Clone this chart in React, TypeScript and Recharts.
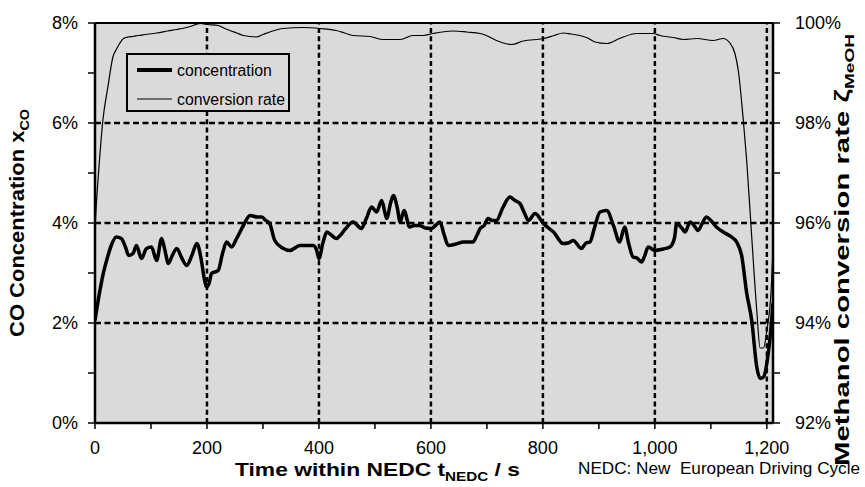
import React from "react";
import {
  ComposedChart,
  Line,
  XAxis,
  YAxis,
  CartesianGrid,
  ReferenceLine,
  Legend,
} from "recharts";

const FONT = '"Liberation Sans", Arial, Helvetica, sans-serif';

// CO concentration (%) over time (s)
const concTime = [
  0, 8, 15, 22, 29, 38, 47, 55, 60, 68, 74, 83, 92, 101, 110, 119, 125, 131,
  138, 146, 155, 164, 173, 182, 190, 195, 199, 204, 208, 220, 228, 235, 244,
  253, 265, 277, 290, 298, 305, 312, 321, 335, 348, 366, 380, 390, 396, 400,
  407, 414, 423, 431, 438, 447, 461, 476, 485, 494, 503, 512, 518, 521, 528,
  533, 540, 545, 552, 562, 570, 580, 590, 601, 608, 616, 624, 631, 645, 658,
  675, 682, 688, 695, 702, 710, 717, 729, 741, 750, 759, 767, 774, 786, 801,
  810, 819, 836, 845, 854, 869, 877, 884, 892, 902, 914, 926, 937, 946, 953,
  961, 968, 976, 982, 988, 1000, 1015, 1027, 1035, 1039, 1048, 1054, 1063,
  1070, 1077, 1085, 1092, 1100, 1110, 1118, 1125, 1137, 1146, 1155, 1164, 1173,
  1182, 1188, 1194, 1202, 1207, 1211,
];
const concValue = [
  2.05, 2.6, 3.0, 3.3, 3.55, 3.72, 3.69, 3.5, 3.35, 3.39, 3.55, 3.29, 3.49,
  3.52, 3.25, 3.69, 3.45, 3.19, 3.35, 3.49, 3.3, 3.15, 3.35, 3.59, 3.25, 2.9,
  2.72, 2.8, 2.99, 3.05, 3.4, 3.62, 3.52, 3.69, 3.95, 4.15, 4.12, 4.12, 4.05,
  3.99, 3.65, 3.5, 3.45, 3.55, 3.55, 3.55, 3.45, 3.29, 3.6, 3.82, 3.75, 3.69,
  3.75, 3.88, 4.02, 3.89, 4.1, 4.32, 4.22, 4.45, 4.2, 4.09, 4.4, 4.55, 4.3,
  4.02, 4.25, 3.92, 3.95, 3.95, 3.9, 3.89, 3.95, 4.02, 3.75, 3.55, 3.58, 3.62,
  3.62, 3.75, 3.89, 3.95, 4.09, 4.05, 4.05, 4.32, 4.52, 4.45, 4.39, 4.2, 4.05,
  4.19, 3.99, 3.9, 3.82, 3.59, 3.6, 3.65, 3.49, 3.6, 3.62, 3.9, 4.22, 4.25,
  3.95, 3.62, 3.92, 3.6, 3.32, 3.3, 3.22, 3.35, 3.52, 3.45, 3.48, 3.52, 3.7,
  3.99, 3.9, 3.82, 4.02, 3.95, 3.85, 4.0, 4.12, 4.05, 3.92, 3.85, 3.8, 3.72,
  3.62, 3.35, 2.6, 2.05, 1.12, 0.89, 0.92, 1.35, 1.85, 2.4,
];

// methanol conversion rate (%) over time (s)
const convTime = [
  0, 2, 8, 14, 23, 32, 39, 44, 51, 59, 68, 77, 90, 110, 130, 146, 160, 170,
  188, 202, 220, 230, 241, 253, 265, 288, 300, 312, 336, 372, 402, 431, 446,
  461, 491, 515, 545, 568, 586, 604, 620, 640, 664, 688, 699, 717, 744, 765,
  801, 820, 836, 850, 866, 880, 893, 914, 937, 967, 997, 1009, 1033, 1051,
  1075, 1104, 1122, 1134, 1143, 1149, 1158, 1164, 1173, 1182, 1188, 1194, 1200,
  1208, 1211,
];
const convValue = [
  95.9, 96.3, 97.25, 98.05, 98.72, 99.32, 99.49, 99.59, 99.69, 99.72, 99.73,
  99.75, 99.77, 99.8, 99.84, 99.87, 99.9, 99.93, 99.99, 99.97, 99.95, 99.9,
  99.85, 99.8, 99.75, 99.72, 99.77, 99.82, 99.89, 99.91, 99.89, 99.85, 99.8,
  99.75, 99.73, 99.67, 99.67, 99.75, 99.75, 99.79, 99.82, 99.84, 99.82, 99.79,
  99.75, 99.65, 99.57, 99.64, 99.69, 99.75, 99.8, 99.78, 99.75, 99.7, 99.62,
  99.59, 99.69, 99.79, 99.79, 99.75, 99.71, 99.67, 99.69, 99.65, 99.69, 99.6,
  99.39, 99.05, 98.05, 97.25, 95.72, 94.25, 93.5, 93.5, 93.85, 94.72, 95.5,
];

const seriesNames = ["concentration", "conversion rate"];
const xTicks = [0, 100, 200, 300, 400, 500, 600, 700, 800, 900, 1000, 1100, 1200];
const leftTicks = [0, 1, 2, 3, 4, 5, 6, 7, 8];
const rightTicks = [92, 93, 94, 95, 96, 97, 98, 99, 100];
const gridX = [200, 400, 600, 800, 1000, 1200];
const gridY = [2, 4, 6];

const concData = concTime.map((t, i) => ({ t, v: concValue[i] }));
const convData = convTime.map((t, i) => ({ t, v: convValue[i] }));

const XTick = (props: any) => {
  const { x, y, payload } = props;
  if (payload.value % 200 !== 0) return <g />;
  return (
    <text x={x} y={y + 25} textAnchor="middle" fontSize={18} fontFamily={FONT} fill="#000">
      {payload.value.toLocaleString("en-US")}
    </text>
  );
};

const LeftTick = (props: any) => {
  const { x, y, payload } = props;
  if (payload.value % 2 !== 0) return <g />;
  return (
    <text x={x} y={y + 6} textAnchor="end" fontSize={18} fontFamily={FONT} fill="#000">
      {payload.value}%
    </text>
  );
};

const RightTick = (props: any) => {
  const { x, y, payload } = props;
  if (payload.value % 2 !== 0) return <g />;
  return (
    <text x={x} y={y + 6} textAnchor="start" fontSize={18} fontFamily={FONT} fill="#000">
      {payload.value}%
    </text>
  );
};

const LegendBox = () => (
  <div
    style={{
      width: 164,
      height: 59,
      boxSizing: "border-box",
      border: "2px solid #000",
      background: "#dadada",
    }}
  >
    <svg width={160} height={55}>
      {seriesNames.map((name, i) => (
        <g key={name}>
          <line
            x1={9}
            x2={44}
            y1={15 + i * 29}
            y2={15 + i * 29}
            stroke="#000"
            strokeWidth={i === 0 ? 4 : 1.2}
          />
          <text x={49} y={20.5 + i * 29} fontSize={15.8} fontFamily={FONT} fill="#000">
            {name}
          </text>
        </g>
      ))}
    </svg>
  </div>
);

const LeftTitle = (props: any) => {
  const { x, y, height } = props.viewBox;
  const cx = x + 24;
  const cy = y + height / 2;
  return (
    <text
      transform={`translate(${cx},${cy}) rotate(-90)`}
      textAnchor="middle"
      fontSize={20}
      fontWeight="bold"
      fontFamily={FONT}
      textLength={228}
      lengthAdjust="spacingAndGlyphs"
      fill="#000"
    >
      CO Concentration x<tspan fontSize={13} dy={5}>CO</tspan>
    </text>
  );
};

const RightTitle = (props: any) => {
  const { x, y, height } = props.viewBox;
  const cx = x + 76;
  const cy = y + height / 2 + 27;
  return (
    <text
      transform={`translate(${cx},${cy}) rotate(-90)`}
      textAnchor="middle"
      fontSize={20}
      fontWeight="bold"
      fontFamily={FONT}
      textLength={432}
      lengthAdjust="spacingAndGlyphs"
      fill="#000"
    >
      Methanol conversion rate ζ<tspan fontSize={13} dy={5}>MeOH</tspan>
    </text>
  );
};

const BottomTitle = (props: any) => {
  const { x, y } = props.viewBox;
  return (
    <g>
      <text
        x={x + 140}
        y={y + 53}
        fontSize={18}
        fontWeight="bold"
        fontFamily={FONT}
        textLength={285}
        lengthAdjust="spacingAndGlyphs"
        fill="#000"
      >
        Time within NEDC t<tspan fontSize={12} dy={5}>NEDC</tspan>
        <tspan dy={-5}> / s</tspan>
      </text>
      <text
        x={x + 483}
        y={y + 51}
        fontSize={16}
        fontFamily={FONT}
        textLength={282}
        lengthAdjust="spacingAndGlyphs"
        fill="#000"
        style={{ whiteSpace: "pre" }}
      >
        NEDC: New  European Driving Cycle
      </text>
    </g>
  );
};

const axisStroke = { stroke: "#000", strokeWidth: 2.5 };
const tickStroke = { stroke: "#000", strokeWidth: 1.5 };

export default function App() {
  return (
    <div style={{ position: "absolute", left: 0, top: 0, width: 865, height: 487, background: "#fff" }}>
      <ComposedChart
        width={865}
        height={487}
        margin={{ top: 23, right: 0, bottom: 0, left: 0 }}
        style={{ fontFamily: FONT }}
      >
        <CartesianGrid fill="#dadada" fillOpacity={1} horizontal={false} vertical={false} stroke="none" />
        <XAxis
          dataKey="t"
          type="number"
          domain={[0, 1211]}
          ticks={xTicks}
          height={64}
          tickSize={6}
          tickMargin={0}
          axisLine={axisStroke}
          tickLine={tickStroke}
          tick={XTick}
          label={{ content: BottomTitle }}
          allowDataOverflow
        />
        <YAxis
          domain={[0, 8]}
          ticks={leftTicks}
          width={95}
          tickSize={7}
          tickMargin={10}
          axisLine={axisStroke}
          tickLine={tickStroke}
          tick={LeftTick}
          label={{ content: LeftTitle }}
          allowDataOverflow
        />
        <YAxis
          yAxisId="right"
          orientation="right"
          domain={[92, 100]}
          ticks={rightTicks}
          width={92}
          tickSize={7}
          tickMargin={15}
          axisLine={axisStroke}
          tickLine={tickStroke}
          tick={RightTick}
          label={{ content: RightTitle }}
          allowDataOverflow
        />
        {gridX.map((g) => (
          <ReferenceLine key={`gx${g}`} x={g} stroke="#000" strokeWidth={2.5} strokeDasharray="5 3.3" />
        ))}
        {gridY.map((g) => (
          <ReferenceLine key={`gy${g}`} y={g} stroke="#000" strokeWidth={2.5} strokeDasharray="6 3.5" />
        ))}
        <ReferenceLine y={8} stroke="#000" strokeWidth={2} />
        <Line
          data={concData}
          dataKey="v"
          name={seriesNames[0]}
          type="monotone"
          stroke="#000"
          strokeWidth={3.5}
          dot={false}
          activeDot={false}
          isAnimationActive={false}
        />
        <Line
          data={convData}
          dataKey="v"
          name={seriesNames[1]}
          yAxisId="right"
          type="monotone"
          stroke="#000"
          strokeWidth={1.2}
          dot={false}
          activeDot={false}
          isAnimationActive={false}
        />
        <Legend
          layout="vertical"
          align="center"
          verticalAlign="middle"
          content={LegendBox}
          wrapperStyle={{ left: 126, top: 53, width: 164, height: 59 }}
        />
      </ComposedChart>
    </div>
  );
}
